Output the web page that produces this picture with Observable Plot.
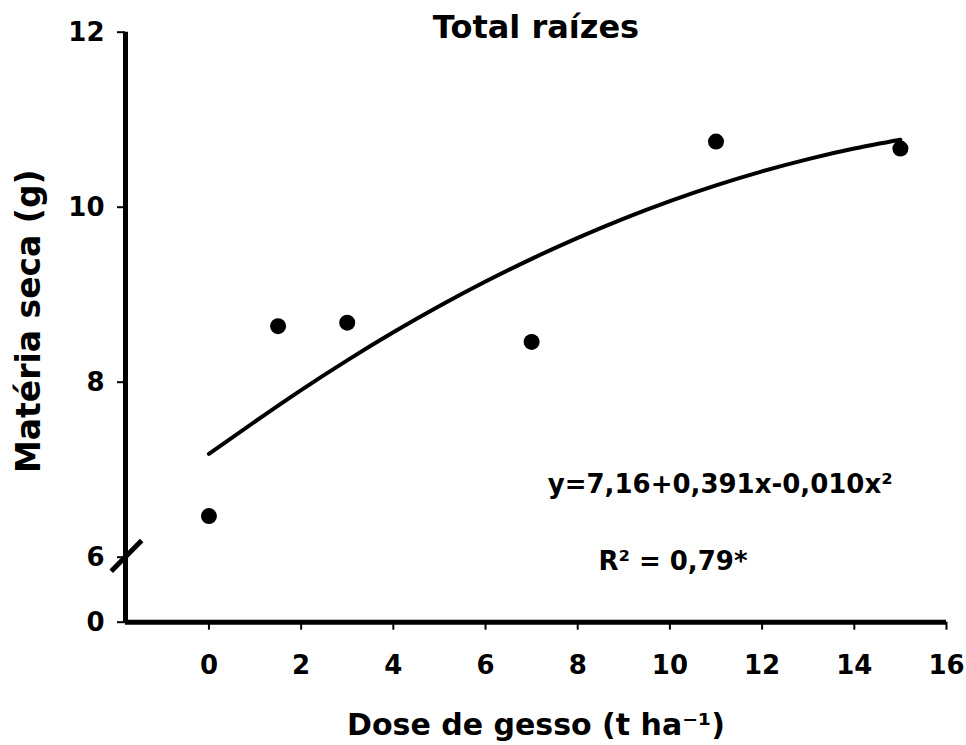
<!DOCTYPE html>
<html><head><meta charset="utf-8">
<script src="https://cdn.jsdelivr.net/npm/d3@7"></script>
<script src="https://cdn.jsdelivr.net/npm/@observablehq/plot@0.6"></script>
<style>
body{margin:0;background:#fff;}
#chart svg{display:block;}
</style>
</head><body><div id="chart"></div>
<script>
// Observed points
const doses = [0, 1.5, 3, 7, 11, 15];
const dryMatter = [6.47, 8.64, 8.68, 8.46, 10.75, 10.67];
// Fitted curve
const curveX = [0, 1, 2, 3, 4, 5, 6, 7, 8, 9, 10, 11, 12, 13, 14, 15];
const curveY = [7.18, 7.55, 7.91, 8.25, 8.57, 8.87, 9.15, 9.41, 9.65, 9.87, 10.07, 10.25, 10.41, 10.55, 10.67, 10.77];
// Ticks and texts
const xTicks = [0, 2, 4, 6, 8, 10, 12, 14, 16];
const yTicks = [0, 6, 8, 10, 12];
const title = "Total raízes";
const xLabel = "Dose de gesso (t ha⁻¹)";
const yLabel = "Matéria seca (g)";
const equation = "y=7,16+0,391x-0,010x²";
const r2Text = "R² = 0,79*";

// Broken y axis: the 0–6 interval is compressed below the break at 6
const squeeze = (65 / 87.5) / 6;
const yPos = v => v >= 6 ? v : 6 - (6 - v) * squeeze;
const yLow = yPos(0);

const points = doses.map((d, i) => ({x: d, y: yPos(dryMatter[i])}));
const curve = curveX.map((d, i) => ({x: d, y: yPos(curveY[i])}));
const yTickPos = yTicks.map(yPos);
const yTickLabel = new Map(yTicks.map(t => [yPos(t), String(t)]));

const chart = Plot.plot({
  width: 966,
  height: 745,
  marginLeft: 125,
  marginRight: 20,
  marginTop: 31.7,
  marginBottom: 123.3,
  style: {fontFamily: "'DejaVu Sans', sans-serif", fontWeight: "bold", fontSize: "26px", color: "#000", background: "#fff"},
  x: {domain: [-1.81, 16], axis: null},
  y: {domain: [yLow, 12], axis: null},
  marks: [
    Plot.axisX({ticks: xTicks, tickSize: 8, tickPadding: 25, strokeWidth: 2, fontSize: 26, fontWeight: "bold", label: null}),
    Plot.axisY({ticks: yTickPos, tickFormat: v => yTickLabel.get(v), tickSize: 8, tickPadding: 13, strokeWidth: 2, fontSize: 26, fontWeight: "bold", label: null}),
    Plot.ruleX([-1.81], {stroke: "#000", strokeWidth: 5}),
    Plot.ruleY([yLow], {stroke: "#000", strokeWidth: 5}),
    Plot.link([0], {x1: -2.12, y1: yPos(4.71), x2: -1.46, y2: 6.19, stroke: "#000", strokeWidth: 5, clip: false}),
    Plot.line(curve, {x: "x", y: "y", curve: "natural", stroke: "#000", strokeWidth: 4}),
    Plot.dot(points, {x: "x", y: "y", r: 8, fill: "#000", stroke: "none"}),
    Plot.text([equation], {x: 7.35, y: 6.73, text: d => d, textAnchor: "start", lineAnchor: "bottom", fontSize: 26, fontWeight: "bold", fill: "#000"}),
    Plot.text([r2Text], {x: 8.45, y: yPos(4.86), text: d => d, textAnchor: "start", lineAnchor: "bottom", fontSize: 26, fontWeight: "bold", fill: "#000"}),
    Plot.text([title], {frameAnchor: "top", textAnchor: "middle", lineAnchor: "bottom", dy: 6, text: d => d, fontSize: 32, fontWeight: "bold", fill: "#000"}),
    Plot.text([xLabel], {frameAnchor: "bottom", textAnchor: "middle", lineAnchor: "bottom", dy: 113, text: d => d, fontSize: 30, fontWeight: "bold", fill: "#000"}),
    Plot.text([yLabel], {frameAnchor: "left", textAnchor: "middle", lineAnchor: "middle", rotate: -90, dx: -96, dy: -6, text: d => d, fontSize: 33, fontWeight: "bold", fill: "#000"})
  ]
});
document.getElementById("chart").appendChild(chart);
</script>
</body></html>
